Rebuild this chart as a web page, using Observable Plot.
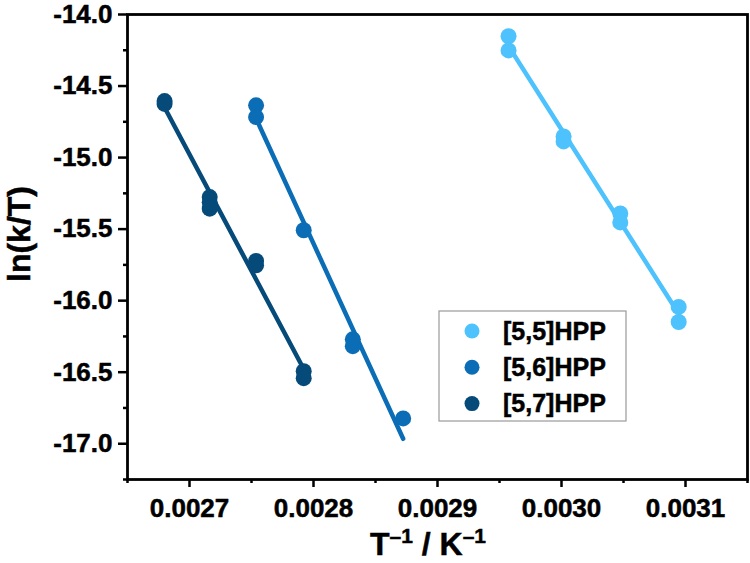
<!DOCTYPE html>
<html>
<head>
<meta charset="utf-8">
<script src="https://cdn.jsdelivr.net/npm/d3@7"></script>
<script src="https://cdn.jsdelivr.net/npm/@observablehq/plot@0.6"></script>
<style>
  html, body { margin: 0; padding: 0; background: #fff; }
  #chart svg { display: block; }
  #chart svg text { stroke: #000; stroke-width: 0.5px; }
</style>
</head>
<body>
<div id="chart"></div>
<script>
// Eyring plot: ln(k/T) against inverse temperature for three HPP homologues
const series = ["[5,5]HPP", "[5,6]HPP", "[5,7]HPP"];
const colors = ["#4dc2fd", "#0b6db6", "#064a7a"];

// [5,5]HPP, 50–65 °C
const invT55 = [0.0029573, 0.0029573, 0.0030017, 0.0030017, 0.0030474, 0.0030474, 0.0030945, 0.0030945];
const lnkT55 = [-14.152, -14.251, -14.852, -14.887, -15.390, -15.453, -16.044, -16.149];

// [5,6]HPP, 75–90 °C
const invT56 = [0.0027537, 0.0027537, 0.0027921, 0.0028317, 0.0028317, 0.0028723];
const lnkT56 = [-14.635, -14.717, -15.508, -16.270, -16.318, -16.823];

// [5,7]HPP, 85–100 °C
const invT57 = [0.0026799, 0.0026799, 0.0027163, 0.0027163, 0.0027163, 0.0027537, 0.0027537, 0.0027921, 0.0027921];
const lnkT57 = [-14.605, -14.625, -15.276, -15.313, -15.357, -15.723, -15.753, -16.493, -16.542];

// axis ticks
const xTicks = [0.0027, 0.0028, 0.0029, 0.0030, 0.0031];
const xMinorTicks = [0.00265, 0.00275, 0.00285, 0.00295, 0.00305, 0.00315];
const yTicks = [-17.0, -16.5, -16.0, -15.5, -15.0, -14.5, -14.0];
const yMinorTicks = [-17.25, -16.75, -16.25, -15.75, -15.25, -14.75, -14.25];

const points = [
  ...invT55.map((x, i) => ({series: series[0], invT: x, lnkT: lnkT55[i]})),
  ...invT56.map((x, i) => ({series: series[1], invT: x, lnkT: lnkT56[i]})),
  ...invT57.map((x, i) => ({series: series[2], invT: x, lnkT: lnkT57[i]}))
];

const font = "'Liberation Sans', Arial, sans-serif";

const plot = Plot.plot({
  width: 750,
  height: 563,
  marginLeft: 127,
  marginRight: 3,
  marginTop: 14,
  marginBottom: 84,
  style: {fontFamily: font, fontWeight: "bold", color: "#000", background: "#fff"},
  x: {domain: [0.00265, 0.00315]},
  y: {domain: [-17.25, -14.0]},
  color: {domain: series, range: colors},
  marks: [
    Plot.axisX({ticks: xTicks, tickSize: 8, tickPadding: 11, tickFormat: d => d.toFixed(4),
      fontSize: 26, fontWeight: "bold", strokeWidth: 2.5, label: null}),
    Plot.axisX({ticks: xMinorTicks, tickSize: 4, text: null, strokeWidth: 2.5, label: null}),
    Plot.axisY({ticks: yTicks, tickSize: 9, tickPadding: 6, tickFormat: d => d.toFixed(1),
      fontSize: 26, fontWeight: "bold", strokeWidth: 2.5, label: null}),
    Plot.axisY({ticks: yMinorTicks, tickSize: 4, text: null, strokeWidth: 2.5, label: null}),
    Plot.linearRegressionY(points, {x: "invT", y: "lnkT", stroke: "series", ci: 0,
      strokeWidth: 4.5, strokeLinecap: "round"}),
    Plot.dot(points, {x: "invT", y: "lnkT", fill: "series", r: 8}),
    Plot.frame({stroke: "#000", strokeWidth: 2.8})
  ]
});

document.getElementById("chart").appendChild(plot);

const svg = d3.select(plot);

// axis titles
const xTitle = svg.append("text")
  .attr("x", 428).attr("y", 555)
  .attr("text-anchor", "middle")
  .attr("font-family", font).attr("font-weight", "bold").attr("font-size", 32)
  .attr("fill", "#000");
xTitle.append("tspan").text("T");
xTitle.append("tspan").attr("dy", -12).attr("font-size", 21).text("\u2013" + "1");
xTitle.append("tspan").attr("dy", 12).text(" / K");
xTitle.append("tspan").attr("dy", -12).attr("font-size", 21).text("\u2013" + "1");

svg.append("text")
  .attr("transform", "translate(30,234) rotate(-90)")
  .attr("text-anchor", "middle")
  .attr("font-family", font).attr("font-weight", "bold").attr("font-size", 32)
  .attr("fill", "#000")
  .text("ln(k/T)");

// legend
const legend = svg.append("g");
legend.append("rect")
  .attr("x", 439).attr("y", 311).attr("width", 187).attr("height", 110)
  .attr("fill", "#fff").attr("stroke", "#9a9a9a").attr("stroke-width", 1.2);
series.forEach((s, i) => {
  const cy = 331 + i * 36.3;
  legend.append("circle").attr("cx", 472).attr("cy", cy).attr("r", 7.5).attr("fill", colors[i]);
  legend.append("text")
    .attr("x", 503).attr("y", cy + 8.5)
    .attr("text-anchor", "start")
    .attr("font-family", font).attr("font-weight", "bold").attr("font-size", 25)
    .attr("fill", "#000")
    .text(s);
});
</script>
</body>
</html>
